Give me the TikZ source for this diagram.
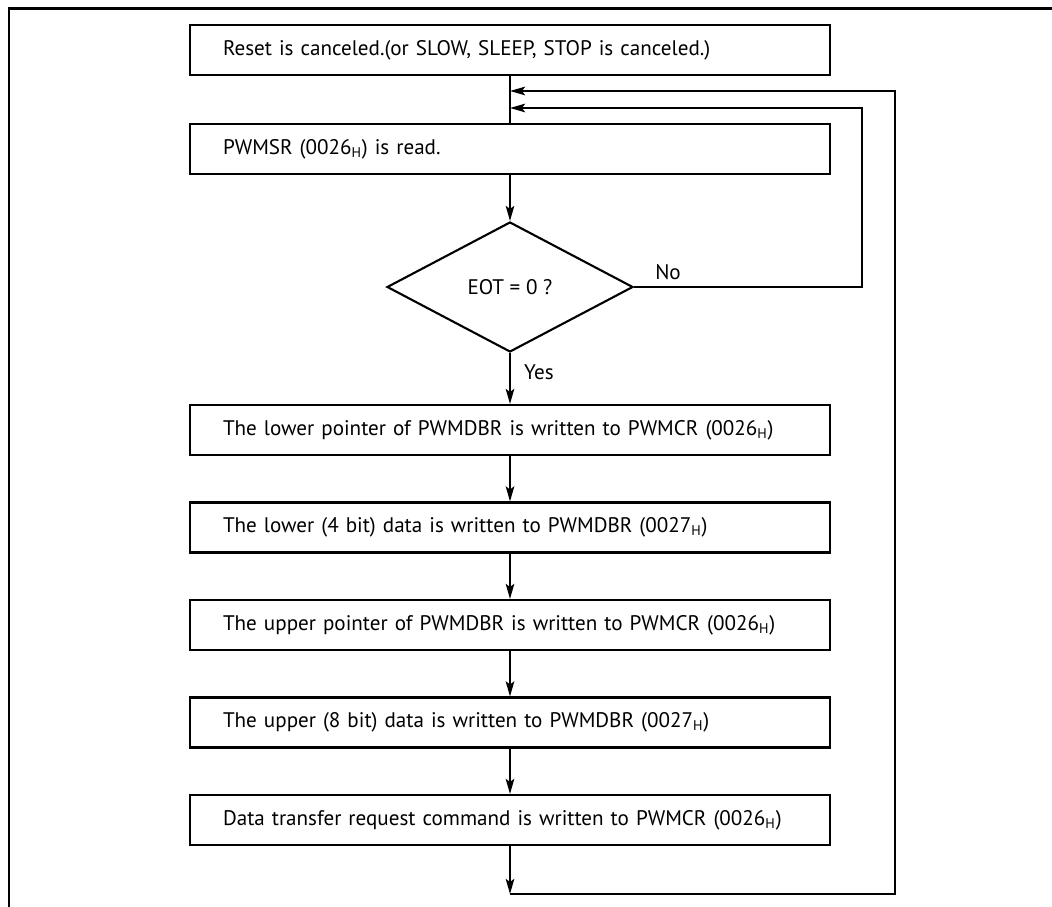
\documentclass[tikz,border=0pt]{standalone}
\usepackage{fontspec}
\setmainfont{PT Sans}
\usepackage{tikz}
\usetikzlibrary{arrows.meta,positioning,shapes.geometric,calc}

\newcommand{\regH}[1]{(#1\textsubscript{H})}

\begin{document}
\begin{tikzpicture}[
    every node/.style={font=\fontsize{12}{14.5}\selectfont},
    stepbox/.style  ={rectangle,draw,line width=1.2pt,
                     minimum width=12.8cm,minimum height=1.0cm,
                     text width=11.48cm,inner xsep=0.66cm,align=left},
    decision/.style ={diamond,draw,line width=1.2pt,
                     minimum width=4.92cm,minimum height=2.6cm,inner sep=0pt},
    flow/.style     ={line width=1.2pt,-{Stealth[length=3mm,width=1.7mm,inset=0.6mm]}},
    wire/.style     ={line width=1.2pt},
    frame/.style    ={line width=1.7pt},
  ]
  \useasboundingbox (0,0) rectangle (21.04,-18.14);
  % outer frame (only top and left edges show)
  \draw[frame] (0.18,-18.2) -- (0.18,-0.18) -- (21.1,-0.18);

  % --- main column ---
  \node[stepbox]  (reset) at (10.2,-1.0)   {Reset is canceled.(or SLOW, SLEEP, STOP is canceled.)};
  \node[stepbox]  (rdsr)  at (10.2,-2.98)  {PWMSR \regH{0026} is read.};
  \node[decision] (eot)   at (10.2,-5.74)  {EOT = 0 ?};
  \node[stepbox]  (lptr)  at (10.2,-8.6)   {The lower pointer of PWMDBR is written to PWMCR \regH{0026}};
  \node[stepbox]  (ldat)  at (10.2,-10.55) {The lower (4 bit) data is written to PWMDBR \regH{0027}};
  \node[stepbox]  (uptr)  at (10.2,-12.5)  {The upper pointer of PWMDBR is written to PWMCR \regH{0026}};
  \node[stepbox]  (udat)  at (10.2,-14.45) {The upper (8 bit) data is written to PWMDBR \regH{0027}};
  \node[stepbox]  (xfer)  at (10.2,-16.4)  {Data transfer request command is written to PWMCR \regH{0026}};

  % loop corners
  \coordinate (back1) at (10.2,-1.82);
  \coordinate (back2) at (10.2,-2.16);
  \coordinate (noR)   at (17.24,-2.16);
  \coordinate (outR)  at (17.9,-1.82);
  \coordinate (bot)   at (10.2,-17.88);

  \draw[wire] (reset) -- (rdsr);
  \draw[flow] (rdsr) -- (eot);
  \draw[flow] (eot) -- (lptr);
  \draw[flow] (lptr) -- (ldat);
  \draw[flow] (ldat) -- (uptr);
  \draw[flow] (uptr) -- (udat);
  \draw[flow] (udat) -- (xfer);
  \draw[flow] (xfer) -- (bot);

  % back edges
  \draw[flow] (eot.east) -| (noR) -- (back2);
  \draw[flow] (bot) -| (outR) -- (back1);

  \node (no)  at (13.36,-5.44) {No};
  \node (yes) at (10.78,-7.44) {Yes};
\end{tikzpicture}
\end{document}
